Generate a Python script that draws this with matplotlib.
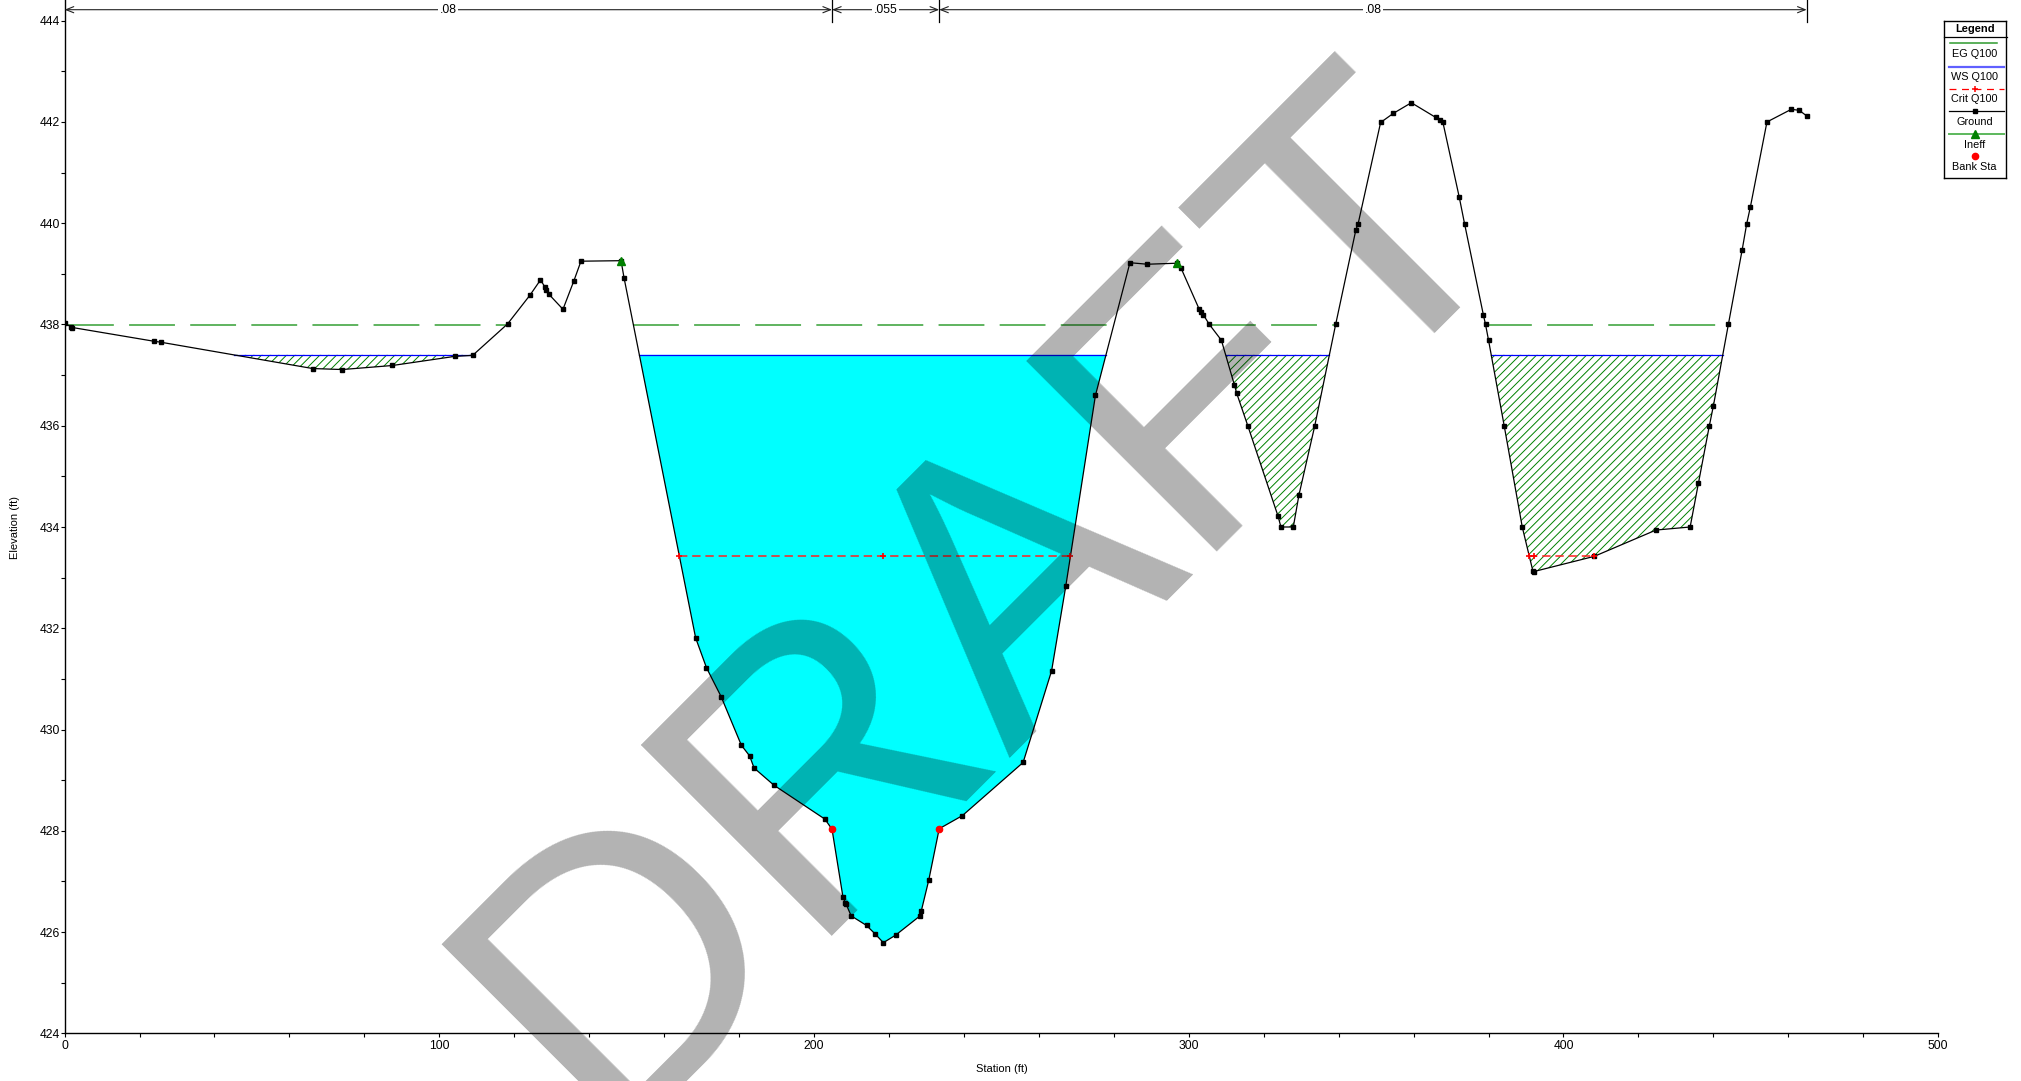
import numpy as np
import matplotlib
matplotlib.use("Agg")
import matplotlib.pyplot as plt
from matplotlib.ticker import MultipleLocator, FormatStrFormatter

plt.rcParams["font.family"] = ["Liberation Sans", "DejaVu Sans"]
plt.rcParams["hatch.linewidth"] = 0.7
plt.rcParams["hatch.color"] = "#008000"
plt.rcParams["lines.scale_dashes"] = False

# ---- cross-section geometry (station ft, elevation ft) ----
station = [0.0, 1.6, 2.1, 23.75, 25.65, 66.2, 74.1, 87.5, 104.1, 108.9,
           118.2, 124.2, 127.0, 128.1, 128.6, 129.2, 133.0, 135.9, 137.8, 148.5,
           149.3, 168.4, 171.3, 175.2, 180.6, 182.8, 184.0, 189.3, 202.9, 204.8,
           207.7, 208.3, 208.5, 209.9, 214.0, 216.2, 218.5, 221.8, 228.3, 228.6,
           230.6, 233.4, 239.6, 255.8, 263.4, 267.2, 275.1, 284.3, 288.95, 296.8,
           297.9, 302.8, 303.3, 303.9, 305.5, 308.7, 312.2, 312.8, 315.8, 323.8,
           324.6, 327.9, 329.4, 333.6, 339.2, 344.6, 345.2, 351.2, 354.6, 359.4,
           365.9, 367.0, 367.8, 372.2, 373.6, 378.65, 379.2, 380.0, 384.2, 389.0,
           391.8, 392.1, 408.2, 424.7, 433.8, 436.0, 438.9, 440.0, 444.0, 447.7,
           448.9, 449.9, 454.3, 460.8, 462.9, 464.9]
elevation = [438.02, 437.96, 437.94, 437.67, 437.65, 437.13, 437.11, 437.19, 437.37, 437.39,
             438.01, 438.58, 438.88, 438.75, 438.68, 438.60, 438.30, 438.86, 439.25, 439.26,
             438.92, 431.81, 431.22, 430.65, 429.69, 429.48, 429.24, 428.90, 428.23, 428.03,
             426.70, 426.58, 426.56, 426.32, 426.13, 425.97, 425.79, 425.94, 426.32, 426.41,
             427.02, 428.04, 428.30, 429.35, 431.16, 432.84, 436.60, 439.22, 439.19, 439.21,
             439.12, 438.30, 438.24, 438.19, 438.00, 437.69, 436.80, 436.64, 435.99, 434.22,
             434.00, 434.00, 434.63, 435.99, 438.00, 439.87, 439.99, 441.99, 442.17, 442.38,
             442.09, 442.04, 442.00, 440.51, 439.99, 438.18, 438.00, 437.69, 435.99, 434.00,
             433.14, 433.12, 433.42, 433.94, 434.00, 434.86, 435.99, 436.39, 438.00, 439.48,
             439.99, 440.33, 442.00, 442.25, 442.23, 442.12]

# ---- computed profiles for Q100 ----
ws_q100 = 437.40
eg_q100 = 437.99
crit_q100 = 433.42

bank_sta = [204.8, 233.4]
ineff_sta = [148.5, 296.8]
ineff_elev = [439.26, 439.21]

n_bounds = [0.0, 204.8, 233.4, 464.9]
n_labels = [".08", ".055", ".08"]

W, H = 2021, 1081
fig = plt.figure(figsize=(W / 100, H / 100), dpi=100)
fig.patch.set_facecolor("white")

y_top = 444 + 20.7 / 50.63
ax = fig.add_axes([64.6 / W, 47.7 / H, (1938.2 - 64.6) / W, 1033.3 / H])
ax.set_xlim(0, 500)
ax.set_ylim(424, y_top)

x = np.asarray(station)
z = np.asarray(elevation)


def cross(i0, i1, level):
    return x[i0] + (level - z[i0]) * (x[i1] - x[i0]) / (z[i1] - z[i0])


def wet_spans(level):
    """Station intervals where the ground lies below a water level."""
    spans, start = [], None
    for i in range(len(x)):
        below = z[i] < level
        if below and start is None:
            start = x[0] if i == 0 else cross(i - 1, i, level)
        elif not below and start is not None:
            spans.append((start, cross(i - 1, i, level)))
            start = None
    if start is not None:
        spans.append((start, x[-1]))
    return spans


# water-surface fills: effective flow area in cyan, ineffective area hatched
for s, e in wet_spans(ws_q100):
    inside = (x > s) & (x < e)
    px = np.concatenate([[s], x[inside], [e]])
    pz = np.concatenate([[ws_q100], z[inside], [ws_q100]])
    mid = 0.5 * (s + e)
    if ineff_sta[0] < mid < ineff_sta[1]:
        ax.fill(px, pz, facecolor="#00ffff", edgecolor="none", zorder=1)
    else:
        ax.fill(px, pz, facecolor="none", edgecolor="#008000", hatch="////",
                linewidth=0, zorder=1)
    ax.plot([s, e], [ws_q100, ws_q100], color="#0000ff", lw=0.9, zorder=3)

# energy grade line
for s, e in wet_spans(eg_q100):
    ax.plot([s, e], [eg_q100, eg_q100], color="#5fb35f", lw=1.4,
            dashes=(33, 11), zorder=3)

# critical water surface
for s, e in wet_spans(crit_q100):
    inside = (x > s) & (x < e)
    ax.plot([s, e], [crit_q100, crit_q100], color="#ff2020", lw=1.1,
            dashes=(6, 3.5), zorder=4)
    low = x[inside][np.argmin(z[inside])]
    ax.plot([s, low, e], [crit_q100] * 3, linestyle="none", marker="+",
            ms=5, mew=1.2, color="#ff0000", zorder=7)

# ground
ax.plot(x, z, color="black", lw=0.9, marker="s", ms=3.4, mfc="black",
        mec="black", zorder=5)

# ineffective flow stations and bank stations
ax.plot(ineff_sta, ineff_elev, linestyle="none", marker="^", ms=6,
        color="#008000", zorder=6)
ax.plot(bank_sta, np.interp(bank_sta, x, z), linestyle="none", marker="o",
        ms=4.5, color="#ff0000", zorder=6)

# Manning's n values along the top
n_y = 444 + (20.7 - 9.7) / 50.63
for a, b, lab in zip(n_bounds[:-1], n_bounds[1:], n_labels):
    ax.annotate("", xy=(a, n_y), xytext=(b, n_y), annotation_clip=False,
                arrowprops=dict(arrowstyle="<->,head_length=0.55,head_width=0.22",
                                lw=0.8, color="#222222", shrinkA=0, shrinkB=0))
    ax.text(0.5 * (a + b), n_y, lab, ha="center", va="center", fontsize=8.7,
            bbox=dict(facecolor="white", edgecolor="none", pad=1.0),
            clip_on=False, zorder=8)
for b in n_bounds[1:]:
    ax.plot([b, b], [444 - 1.0 / 50.63, y_top], color="black", lw=0.9,
            clip_on=False, zorder=8)

# axes styling
for side in ("top", "right"):
    ax.spines[side].set_visible(False)
for side in ("left", "bottom"):
    ax.spines[side].set_linewidth(1.0)
ax.xaxis.set_major_locator(MultipleLocator(100))
ax.xaxis.set_minor_locator(MultipleLocator(20))
ax.yaxis.set_major_locator(MultipleLocator(2))
ax.yaxis.set_minor_locator(MultipleLocator(1))
ax.yaxis.set_major_formatter(FormatStrFormatter("%d"))
ax.xaxis.set_major_formatter(FormatStrFormatter("%d"))
ax.tick_params(axis="both", which="both", direction="out", width=0.8,
               length=3, labelsize=8.7, colors="black")
ax.tick_params(axis="x", pad=2)
ax.tick_params(axis="y", pad=0.5)

fig.text(1001.6 / W, 1 - 1068.6 / H, "Station (ft)", ha="center", va="center",
         fontsize=8)
fig.text(14.5 / W, 1 - 527.5 / H, "Elevation (ft)", ha="center", va="center",
         rotation=90, fontsize=8)

# legend panel
lg = fig.add_axes([1943.7 / W, (H - 178.3) / H, 62 / W, 157 / H])
lg.set_xlim(0, 62)
lg.set_ylim(157, 0)
lg.set_xticks([])
lg.set_yticks([])
for sp in lg.spines.values():
    sp.set_linewidth(1.0)
lg.plot([0, 63], [15.4, 15.4], color="black", lw=0.9, clip_on=False)
lg.text(31, 7.6, "Legend", ha="center", va="center", fontsize=8, fontweight="bold")
cx = 31
lg.plot([6.3, 53], [22, 22], color="#2e9a2e", lw=1.1)
lg.text(cx, 33, "EG Q100", ha="center", va="center", fontsize=7.8)
lg.plot([5.6, 60.6], [45.4, 45.4], color="#6060ff", lw=1.6)
lg.text(cx, 55.7, "WS Q100", ha="center", va="center", fontsize=7.8)
lg.plot([5.6, 60.6], [67.7, 67.7], color="#ff0000", lw=0.9, dashes=(5, 4))
lg.plot([cx], [67.7], marker="+", ms=5, mew=1.1, color="#ff0000")
lg.text(cx, 77.7, "Crit Q100", ha="center", va="center", fontsize=7.8)
lg.plot([5.6, 60.6], [89.7, 89.7], color="black", lw=0.9)
lg.plot([cx], [89.7], marker="s", ms=3.4, color="black")
lg.text(cx, 100.7, "Ground", ha="center", va="center", fontsize=7.8)
lg.plot([5.6, 60.6], [113, 113], color="#5cb85c", lw=1.4)
lg.plot([cx], [112.3], marker="^", ms=6, color="#008000")
lg.text(cx, 123.7, "Ineff", ha="center", va="center", fontsize=7.8)
lg.plot([cx], [135], marker="o", ms=4.5, color="#ff0000")
lg.text(cx, 145.4, "Bank Sta", ha="center", va="center", fontsize=7.8)

# DRAFT watermark
fig.text(601.0 / W, (H - 1135.0) / H, "DRAFT", fontsize=282, rotation=45,
         rotation_mode="anchor", ha="left", va="baseline", color="black",
         alpha=0.3, zorder=100, fontfamily="Liberation Sans")

fig.savefig("out.png", dpi=100, facecolor="white")
